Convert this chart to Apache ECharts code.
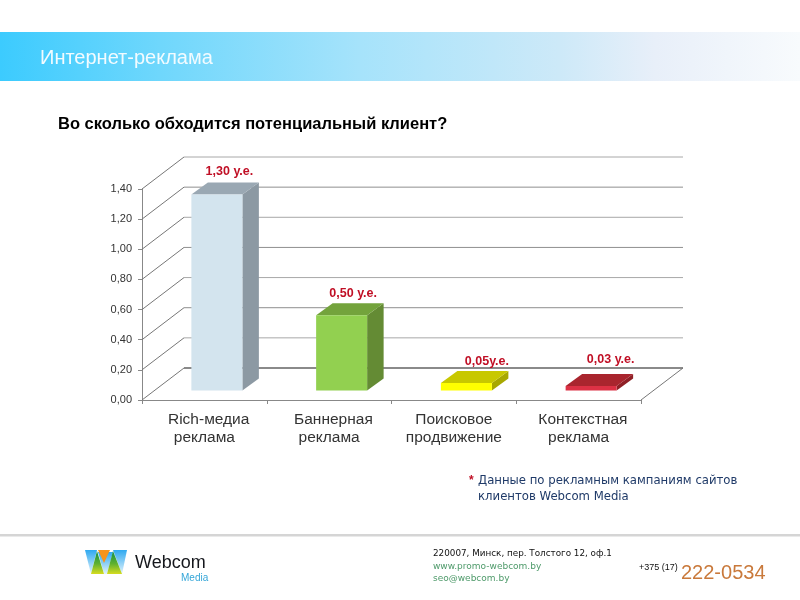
<!DOCTYPE html>
<html><head><meta charset="utf-8">
<style>html,body{margin:0;padding:0;background:#fff}#c{width:800px;height:600px}</style>
<script src="https://cdn.jsdelivr.net/npm/echarts@6/dist/echarts.min.js"></script>
</head><body><div id="c"></div>
<script>
const categories = ['  Rich-медиа\nреклама', '  Баннерная\nреклама', 'Поисковое\nпродвижение', '  Контекстная\nреклама'];
const values = [1.30, 0.50, 0.05, 0.03];
const valueLabels = ['1,30 у.е.', '0,50 у.е.', '0,05у.е.', '0,03 у.е.'];
const yTicks = [0, 0.2, 0.4, 0.6, 0.8, 1.0, 1.2, 1.4];

// Styling and layout (kept apart from the data)
const barColors = [
  {front: '#D3E4EE', top: '#9AA8B3', side: '#8C99A3'},
  {front: '#92D050', top: '#73A33C', side: '#648B34'},
  {front: '#FFFF00', top: '#C8C800', side: '#A8A800'},
  {front: '#DC3145', top: '#A9252E', side: '#8F2026'}
];
const labelShift = [[25, 11], [24, 10], [33, 9], [32, 14]];
const DEPTH = {x: 42, y: -32};
const BAR = {width: 51, dx: 12.5, dy: -9.5, depthX: 16.5, depthY: -12};
const font = 'Liberation Sans';

function wallItem(params, api) {
  const v = api.value(0);
  const cs = params.coordSys;
  const y = api.coord([0, v])[1];
  const x0 = cs.x, x1 = cs.x + cs.width;
  const bx0 = x0 + DEPTH.x, bx1 = x1 + DEPTH.x, by = y + DEPTH.y;
  const isZero = v === 0;
  const children = [
    {type: 'line', shape: {x1: x0, y1: y, x2: bx0, y2: by}, style: {stroke: '#777', lineWidth: 1}},
    {type: 'line', shape: {x1: bx0, y1: by, x2: bx1, y2: by},
     style: {stroke: isZero ? '#8a8a8a' : (params.dataIndex % 2 ? '#a8a8a8' : '#8f8f8f'), lineWidth: isZero ? 2 : 1}}
  ];
  if (isZero) children.push({type: 'line', shape: {x1: x1, y1: y, x2: bx1, y2: by}, style: {stroke: '#777', lineWidth: 1}});
  return {type: 'group', children};
}

function barItem(params, api) {
  const i = params.dataIndex;
  const c = barColors[i];
  const top = api.coord([i, api.value(1)]);
  const base = api.coord([i, 0]);
  const x = top[0] + BAR.dx - BAR.width / 2, X = x + BAR.width;
  const yT = top[1] + BAR.dy, yB = base[1] + BAR.dy;
  const dx = BAR.depthX, dy = BAR.depthY;
  return {type: 'group', children: [
    {type: 'polygon', shape: {points: [[X, yT], [X + dx, yT + dy], [X + dx, yB + dy], [X, yB]]}, style: {fill: c.side}},
    {type: 'polygon', shape: {points: [[x, yT], [x + dx, yT + dy], [X + dx, yT + dy], [X, yT]]}, style: {fill: c.top}},
    {type: 'rect', shape: {x: x, y: yT, width: BAR.width, height: yB - yT}, style: {fill: c.front}},
    {type: 'text', style: {
      x: top[0] + labelShift[i][0], y: yT + dy - labelShift[i][1],
      text: valueLabels[i], fill: '#C00F25', align: 'center', verticalAlign: 'middle',
      font: 'bold 12.5px "' + font + '"'}}
  ]};
}

function txt(x, y, text, size, fill, extra) {
  return {type: 'text', x: x, y: y, silent: true, style: Object.assign({
    text: text, fill: fill, font: size + 'px "' + font + '"', verticalAlign: 'middle'}, extra || {})};
}
function grad(stops, vertical) {
  return {type: 'linear', x: 0, y: 0, x2: vertical ? 0 : 1, y2: vertical ? 1 : 0,
    colorStops: stops.map(s => ({offset: s[0], color: s[1]}))};
}
function poly(points, fill) {
  return {type: 'polygon', silent: true, shape: {points: points}, style: {fill: fill}};
}
const blueDown = grad([[0, '#2FA9F0'], [1, '#E4F4FC']], true);
const greenUp = grad([[0, '#0F8F45'], [0.55, '#5FB030'], [1, '#D6DC20']], true);

const chart = echarts.init(document.getElementById('c'), null, {renderer: 'canvas'});
chart.setOption({
  animation: false,
  backgroundColor: '#fff',
  grid: {left: 142, top: 189, width: 499, height: 211, containLabel: false},
  xAxis: {
    type: 'category', data: categories,
    axisLine: {lineStyle: {color: '#888', width: 1}},
    axisTick: {show: true, alignWithLabel: false, length: 4, lineStyle: {color: '#888'}},
    axisLabel: {interval: 0, fontFamily: font, fontSize: 15.5, color: '#333', margin: 11, lineHeight: 18, align: 'center'},
    splitLine: {show: false}
  },
  yAxis: {
    type: 'value', min: 0, max: 1.4, interval: 0.2,
    axisLine: {show: true, lineStyle: {color: '#888'}},
    axisTick: {show: true, length: 4, lineStyle: {color: '#888'}},
    axisLabel: {fontFamily: font, fontSize: 11, color: '#333', margin: 10,
      formatter: v => v.toFixed(2).replace('.', ',')},
    splitLine: {show: false}
  },
  series: [
    {type: 'custom', coordinateSystem: 'cartesian2d', clip: false, z: 1, silent: true,
     encode: {y: 0}, data: yTicks.map(v => [v]), renderItem: wallItem},
    {type: 'custom', coordinateSystem: 'cartesian2d', clip: false, z: 3, silent: true,
     encode: {x: 0, y: 1}, data: values.map((v, i) => [i, v]), renderItem: barItem}
  ],
  graphic: {elements: [
    {type: 'rect', shape: {x: 0, y: 32, width: 800, height: 49}, silent: true,
     style: {fill: grad([[0, '#3CCBFE'], [0.2, '#6FD7FC'], [0.45, '#A6E3FB'], [0.7, '#CDE9F8'], [0.82, '#E8EFF9'], [1, '#F8FBFD']])}},
    txt(40, 58, 'Интернет-реклама', 20, '#F2FBFF'),
    txt(58, 124.5, 'Во сколько обходится потенциальный клиент?', 16.5, '#000', {font: 'bold 16.5px "' + font + '"'}),
    txt(469, 481, '*', 12, '#C00F25', {font: 'bold 12px "' + font + '"'}),
    txt(478, 481, 'Данные по рекламным кампаниям сайтов', 11.7, '#1F3A68', {font: '11.7px "DejaVu Sans"'}),
    txt(478, 497, 'клиентов Webcom Media', 11.7, '#1F3A68', {font: '11.7px "DejaVu Sans"'}),
    {type: 'rect', shape: {x: 0, y: 534, width: 800, height: 2.5}, silent: true, style: {fill: '#D5D5D5'}},
    // logo
    poly([[85, 550], [97, 550], [91, 574]], blueDown),
    poly([[98, 552], [113, 552], [107, 574], [104, 574]], blueDown),
    poly([[113, 550], [127, 550], [122, 574]], blueDown),
    poly([[98, 550], [110, 550], [104, 563]], '#F7941D'),
    poly([[97, 551], [91, 574], [104, 574]], greenUp),
    poly([[113, 551], [107, 574], [122, 574]], greenUp),
    txt(135, 563, 'Webcom', 18, '#15171C'),
    txt(181, 578, 'Media', 10, '#35A6D8'),
    // contact block
    txt(433, 554, '220007, Минск, пер. Толстого 12, оф.1', 8.8, '#111', {font: '8.8px "DejaVu Sans"'}),
    txt(433, 567, 'www.promo-webcom.by', 9, '#4E9A6A', {font: '9px "DejaVu Sans"'}),
    txt(433, 579, 'seo@webcom.by', 9, '#4E9A6A', {font: '9px "DejaVu Sans"'}),
    txt(639, 568, '+375 (17)', 9, '#111'),
    txt(681, 573, '222-0534', 20, '#C9793B')
  ]}
});
</script></body></html>
